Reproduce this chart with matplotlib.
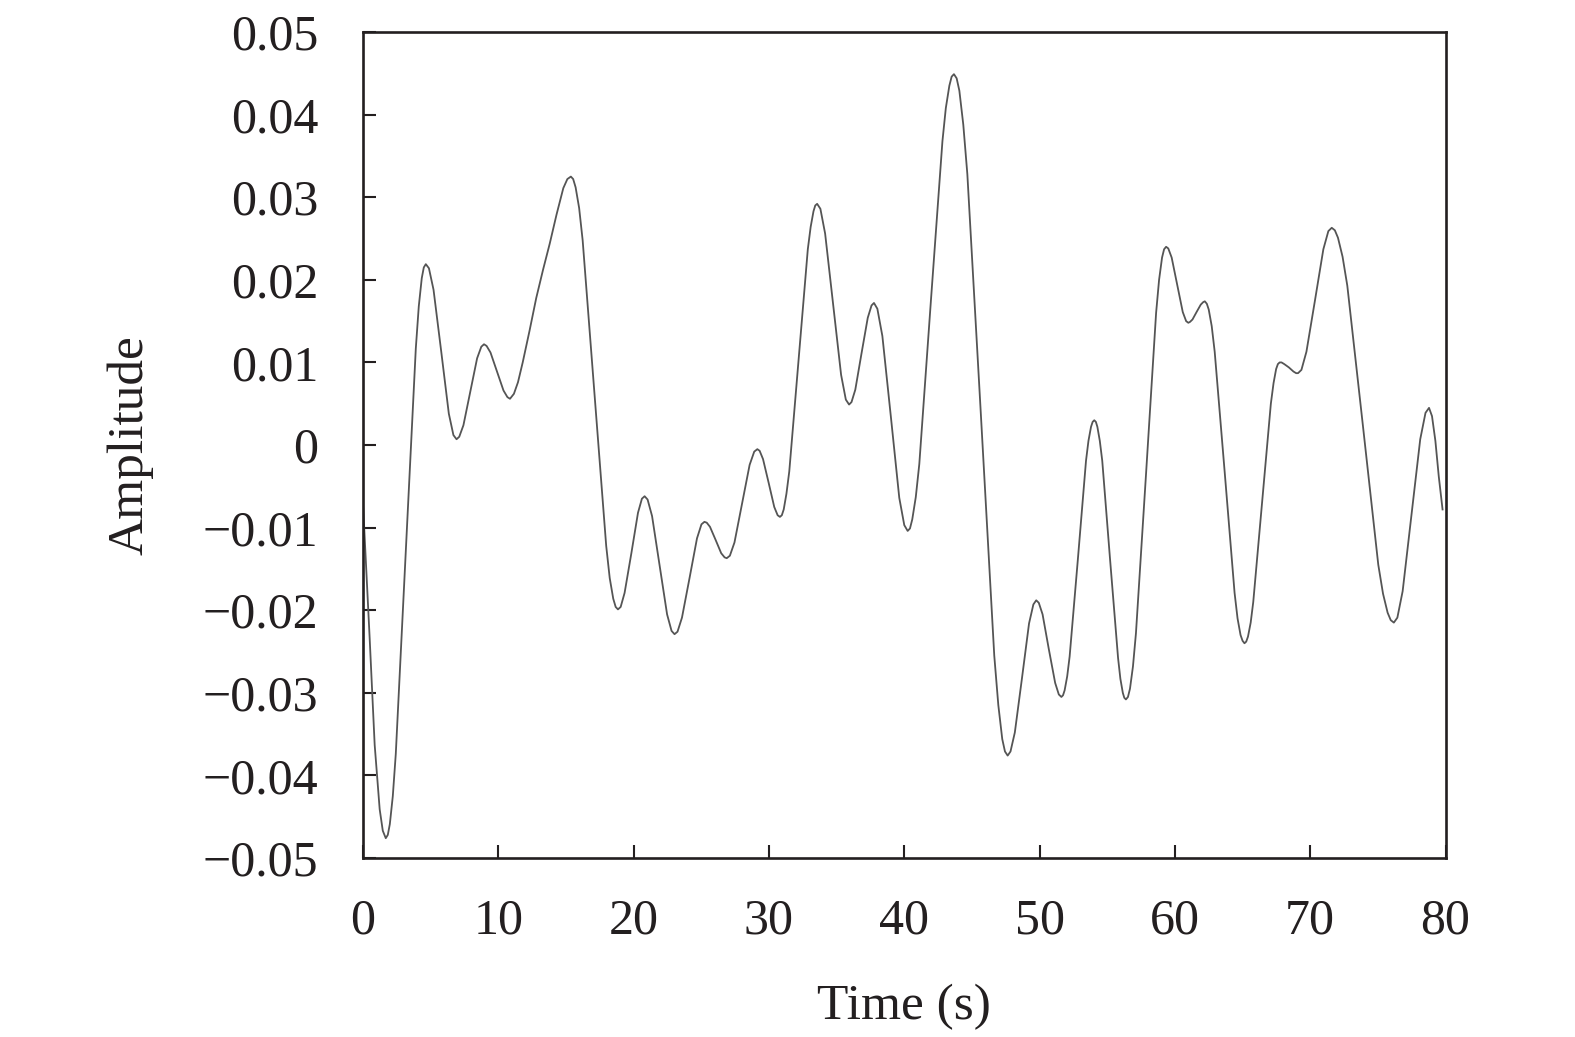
import matplotlib
matplotlib.use("Agg")
import matplotlib.pyplot as plt

# Values, one row per swing (time in s, amplitude)
time_s = [
    0.00, 0.49, 0.86, 1.23, 1.46, 1.68,
    1.83, 1.98, 2.20, 2.42, 3.16, 3.90, 4.12, 4.34, 4.49, 4.64,
    4.87, 5.21, 5.78, 6.34, 6.68, 6.91,
    7.11, 7.42, 7.93, 8.43, 8.74, 8.94,
    9.13, 9.42, 9.90, 10.38, 10.67, 10.86,
    11.15, 11.45, 11.80, 12.30, 12.80, 13.30, 13.80, 14.30, 14.80, 15.10, 15.36,
    15.53, 15.71, 15.97, 16.23, 17.10, 17.97, 18.23, 18.49, 18.67, 18.84,
    19.04, 19.33, 19.83, 20.32, 20.61, 20.81,
    21.03, 21.36, 21.92, 22.47, 22.80, 23.02,
    23.24, 23.57, 24.13, 24.68, 25.01, 25.23,
    25.40, 25.64, 26.06, 26.47, 26.72, 26.88,
    27.11, 27.45, 28.01, 28.57, 28.91, 29.14,
    29.31, 29.56, 29.98, 30.39, 30.64, 30.81,
    30.95, 31.09, 31.29, 31.50, 32.19, 32.87, 33.08, 33.29, 33.42, 33.56,
    33.80, 34.15, 34.74, 35.33, 35.68, 35.92,
    36.10, 36.38, 36.84, 37.30, 37.58, 37.76,
    38.01, 38.38, 39.01, 39.63, 40.00, 40.25,
    40.42, 40.59, 40.85, 41.11, 41.96, 42.82, 43.07, 43.33, 43.50, 43.67,
    43.87, 44.07, 44.36, 44.66, 45.66, 46.65, 46.95, 47.24, 47.44, 47.64,
    47.85, 48.17, 48.70, 49.22, 49.54, 49.75,
    49.94, 50.22, 50.68, 51.15, 51.42, 51.61,
    51.73, 51.85, 52.04, 52.22, 52.83, 53.43, 53.61, 53.80, 53.92, 54.04,
    54.16, 54.27, 54.45, 54.63, 55.21, 55.80, 55.97, 56.15, 56.26, 56.38,
    56.53, 56.68, 56.90, 57.12, 57.87, 58.61, 58.83, 59.05, 59.20, 59.35,
    59.51, 59.76, 60.17, 60.58, 60.83, 60.99,
    61.11, 61.30, 61.60, 61.91, 62.09, 62.21,
    62.36, 62.50, 62.72, 62.94, 63.68, 64.41, 64.63, 64.85, 65.00, 65.14,
    65.27, 65.40, 65.60, 65.79, 66.44, 67.09, 67.29, 67.48, 67.61, 67.74,
    67.88, 68.08, 68.42, 68.76, 68.96, 69.10,
    69.35, 69.72, 70.35, 70.97, 71.34, 71.59,
    71.82, 72.05, 72.39, 72.74, 73.89, 75.03, 75.38, 75.72, 75.95, 76.18,
    76.44, 76.83, 77.48, 78.13, 78.52, 78.78,
    79.00, 79.25, 79.50, 79.78,
]
amplitude = [
    -0.0072, -0.0234, -0.0363, -0.0441, -0.0467, -0.0476,
    -0.0472, -0.0459, -0.0425, -0.0374, -0.0129, 0.0117, 0.0168, 0.0202, 0.0215, 0.0219,
    0.0214, 0.0188, 0.0113, 0.0038, 0.0012, 0.0007,
    0.0010, 0.0024, 0.0065, 0.0105, 0.0119, 0.0122,
    0.0120, 0.0112, 0.0089, 0.0066, 0.0058, 0.0056,
    0.0062, 0.0076, 0.0100, 0.0138, 0.0178, 0.0212, 0.0244, 0.0279, 0.0311, 0.0322, 0.0325,
    0.0322, 0.0312, 0.0287, 0.0248, 0.0063, -0.0122, -0.0161, -0.0186, -0.0196, -0.0199,
    -0.0196, -0.0179, -0.0131, -0.0082, -0.0065, -0.0062,
    -0.0066, -0.0086, -0.0146, -0.0205, -0.0225, -0.0229,
    -0.0226, -0.0209, -0.0161, -0.0113, -0.0096, -0.0093,
    -0.0094, -0.0099, -0.0115, -0.0131, -0.0136, -0.0137,
    -0.0134, -0.0118, -0.0071, -0.0024, -0.0008, -0.0005,
    -0.0007, -0.0017, -0.0046, -0.0075, -0.0085, -0.0087,
    -0.0085, -0.0078, -0.0059, -0.0032, 0.0103, 0.0237, 0.0264, 0.0283, 0.0290, 0.0292,
    0.0286, 0.0256, 0.0171, 0.0085, 0.0055, 0.0049,
    0.0052, 0.0067, 0.0111, 0.0154, 0.0169, 0.0172,
    0.0165, 0.0132, 0.0034, -0.0064, -0.0097, -0.0104,
    -0.0101, -0.0090, -0.0063, -0.0023, 0.0173, 0.0368, 0.0408, 0.0435, 0.0446, 0.0449,
    0.0444, 0.0429, 0.0388, 0.0328, 0.0037, -0.0255, -0.0315, -0.0356, -0.0371, -0.0376,
    -0.0371, -0.0348, -0.0282, -0.0216, -0.0193, -0.0188,
    -0.0191, -0.0205, -0.0247, -0.0288, -0.0302, -0.0305,
    -0.0303, -0.0297, -0.0280, -0.0256, -0.0138, -0.0019, 0.0005, 0.0022, 0.0028, 0.0030,
    0.0028, 0.0022, 0.0005, -0.0019, -0.0139, -0.0258, -0.0283, -0.0300, -0.0306, -0.0308,
    -0.0305, -0.0295, -0.0268, -0.0228, -0.0034, 0.0160, 0.0200, 0.0227, 0.0237, 0.0240,
    0.0238, 0.0227, 0.0194, 0.0161, 0.0150, 0.0148,
    0.0149, 0.0152, 0.0161, 0.0170, 0.0173, 0.0174,
    0.0171, 0.0164, 0.0144, 0.0113, -0.0033, -0.0179, -0.0210, -0.0230, -0.0237, -0.0240,
    -0.0238, -0.0232, -0.0215, -0.0190, -0.0070, 0.0050, 0.0075, 0.0092, 0.0098, 0.0100,
    0.0100, 0.0098, 0.0094, 0.0089, 0.0087, 0.0087,
    0.0091, 0.0113, 0.0175, 0.0237, 0.0259, 0.0263,
    0.0260, 0.0251, 0.0228, 0.0193, 0.0024, -0.0145, -0.0180, -0.0203, -0.0212, -0.0215,
    -0.0209, -0.0177, -0.0085, 0.0007, 0.0039, 0.0045,
    0.0035, 0.0005, -0.0038, -0.0078,
]

x_ticks = [0, 10, 20, 30, 40, 50, 60, 70, 80]
y_ticks = [-0.05, -0.04, -0.03, -0.02, -0.01, 0, 0.01, 0.02, 0.03, 0.04, 0.05]
y_tick_labels = ["\u22120.05", "\u22120.04", "\u22120.03", "\u22120.02", "\u22120.01",
                 "0", "0.01", "0.02", "0.03", "0.04", "0.05"]

plt.rcParams['font.family'] = ['Liberation Serif', 'DejaVu Serif']
ink = '#231f20'

fig = plt.figure(figsize=(15.75, 10.37), dpi=100)
ax = fig.add_axes([0.2305, 0.1726, 0.6873, 0.7965])

ax.plot(time_s, amplitude, color='#555555', linewidth=1.3)

ax.set_xlim(0, 80)
ax.set_ylim(-0.05, 0.05)
ax.set_xticks(x_ticks)
ax.set_xticklabels([str(v) for v in x_ticks])
ax.set_yticks(y_ticks)
ax.set_yticklabels(y_tick_labels)

ax.tick_params(axis='both', direction='in', length=9.5, width=1.5,
               labelsize=36, colors=ink, top=False, right=False)
ax.tick_params(axis='x', pad=29)
ax.tick_params(axis='y', pad=32)
for side in ax.spines.values():
    side.set_linewidth(1.9)
    side.set_color(ink)

ax.set_xlabel("Time (s)", fontsize=37, color=ink)
ax.set_ylabel("Amplitude", fontsize=37, color=ink)
ax.xaxis.set_label_coords(0.5, -0.152)
ax.yaxis.set_label_coords(-0.194, 0.5)

fig.savefig("out.png", dpi=100)
